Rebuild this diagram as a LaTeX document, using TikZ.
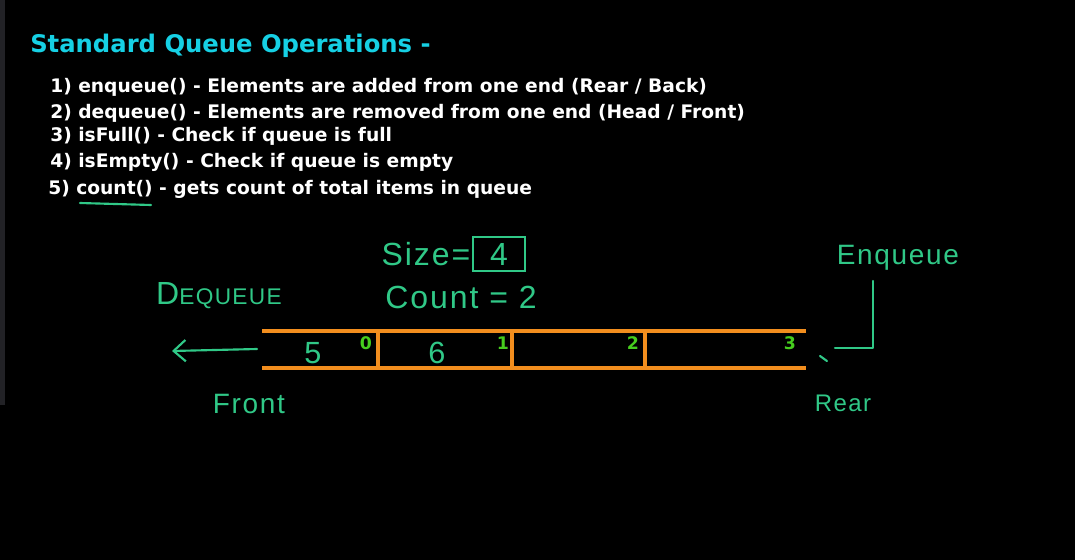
\documentclass[tikz,border=0pt]{standalone}
\usepackage{fontspec}
\setmainfont{DejaVu Sans}
\newfontfamily\hand[LetterSpace=6]{Liberation Sans}
\definecolor{QTitle}{RGB}{22,208,228}
\definecolor{QHand}{RGB}{48,200,135}
\definecolor{QIdx}{RGB}{70,205,30}
\definecolor{QOrange}{RGB}{242,142,30}
\definecolor{QStrip}{RGB}{34,34,38}
\usetikzlibrary{arrows.meta, positioning}

\begin{document}
\begin{tikzpicture}[
    x=0.75pt, y=-0.75pt,
    heading/.style={
      anchor=base west,
      inner sep=0pt,
      font=\bfseries\fontsize{18.2}{22}\selectfont,
      text=QTitle
    },
    item/.style={
      anchor=base west,
      inner sep=0pt,
      font=\bfseries\fontsize{14}{16}\selectfont,
      text=white
    },
    hand/.style={inner sep=0pt, font=\hand\fontsize{21}{24}\selectfont, text=QHand},
    idx/.style={inner sep=0pt, font=\bfseries\fontsize{13}{15}\selectfont, text=QIdx},
    ink/.style={QHand, line width=1.6pt, line cap=round, line join=round},
    rail/.style={QOrange, line width=3pt}
  ]
  % page
  \fill[black] (0,0) rectangle (1075,560);
  \fill[QStrip] (0,0) rectangle (5,405);

  % list of operations
  \node[heading] (title) at (30,53) {Standard Queue Operations -};
  \node[item] (op1) at (50,93) {1) enqueue() - Elements are added from one end (Rear / Back)};
  \node[item] (op2) at (50,118) {2) dequeue() - Elements are removed from one end (Head / Front)};
  \node[item] (op3) at (50,142) {3) isFull() - Check if queue is full};
  \node[item] (op4) at (50,167) {4) isEmpty() - Check if queue is empty};
  \node[item] (op5) at (48,194) {5) count() - gets count of total items in queue};
  \draw[ink] (80,203) -- (151,205);

  % queue
  \coordinate (railNW) at (262,331);
  \coordinate (railNE) at (806,331);
  \coordinate (railSW) at (262,368);
  \coordinate (railSE) at (806,368);
  \draw[rail] (railNW) -- (railNE);
  \draw[rail] (railSW) -- (railSE);
  \foreach \x in {378,512,645}
    \draw[rail] (\x,331) -- (\x,368);

  \node[hand, font=\hand\fontsize{23}{26}\selectfont] (val0) at (313,353) {5};
  \node[hand, font=\hand\fontsize{23}{26}\selectfont] (val1) at (437,353) {6};
  \node[idx] (idx0) at (366,343) {0};
  \node[idx] (idx1) at (503,343) {1};
  \node[idx] (idx2) at (633,343) {2};
  \node[idx] (idx3) at (790,343) {3};

  % sizes
  \node[hand, font=\hand\fontsize{24}{27}\selectfont] (size) at (426,254) {Size=};
  \node[hand, draw=QHand, line width=1.6pt, minimum width=39pt, minimum height=25pt,
    font=\hand\fontsize{24}{27}\selectfont, right=1pt of size] (cap) {4};
  \node[hand, font=\hand\fontsize{24}{27}\selectfont] (count) at (461,297) {Count = 2};

  % front side
  \node[hand, font=\hand\fontsize{24}{27}\selectfont] (deq) at (219,296)
    {D{\fontsize{17}{20}\selectfont EQUEUE}};
  \coordinate (deqFrom) at (257,349);
  \coordinate (deqTo) at (172,351);
  \draw[ink, -{Straight Barb[length=9pt, width=16pt]}] (deqFrom) -- (deqTo);
  \node[hand] (front) at (249,404) {Front};

  % rear side
  \node[hand] (enq) at (898,258) {Enqueue};
  \coordinate (enqDrop) at (873,281);
  \coordinate (enqIn) at (835,348);
  \draw[ink] (enqDrop) |- (enqIn);
  \draw[ink] (820,356) -- (827,361);
  \node[hand, font=\hand\fontsize{18}{20}\selectfont] (rear) at (843,403) {Rear};
\end{tikzpicture}
\end{document}
